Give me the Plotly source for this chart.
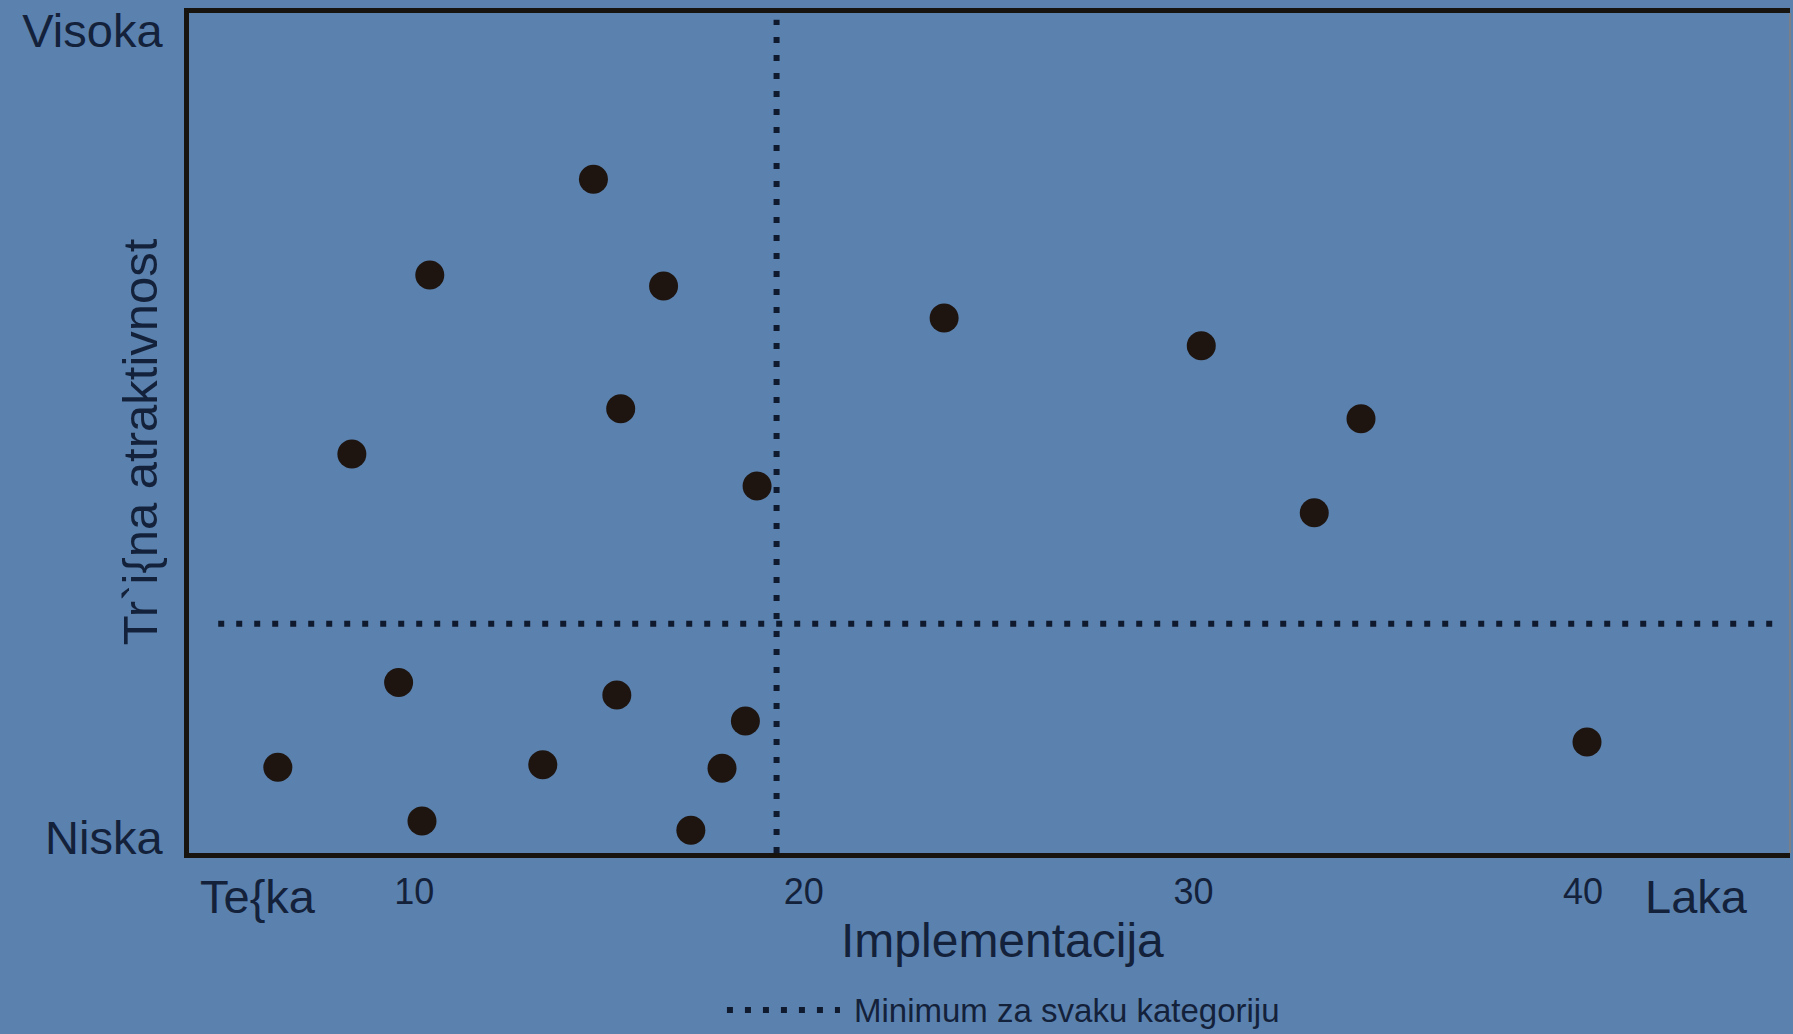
import plotly.graph_objects as go

# ---- data ----
implementacija = [14.6, 10.4, 16.4, 23.6, 30.2, 15.3, 8.4, 34.3, 18.8, 33.1,
                  9.6, 15.2, 18.5, 6.5, 13.3, 17.9, 40.1, 10.2, 17.1]
atraktivnost = [80.2, 68.8, 67.5, 63.7, 60.4, 52.9, 47.5, 51.7, 43.7, 40.5,
                20.3, 18.8, 15.7, 10.2, 10.5, 10.1, 13.2, 3.8, 2.7]

min_implementacija = 19.3
min_atraktivnost = 27.3

x_range = [4.22, 45.31]
y_range = [0, 100]

x_ticks = [10, 20, 30, 40]
x_tick_labels = ["10", "20", "30", "40"]
y_ticks = [1.8, 97.9]
y_tick_labels = ["Niska", "Visoka"]

x_end_labels = ["Te{ka", "Laka"]
x_end_positions = [6.0, 42.9]

x_title = "Implementacija"
y_title = "Tr`i{na atraktivnost"
legend_text = "Minimum za svaku kategoriju"

# ---- styles ----
BG = "#5b82ae"
TXT = "#14213a"
DOT = "#0f1a2e"
MARK = "#1e1511"
FONT = "Liberation Sans, Arial, sans-serif"
NARROW = "Liberation Sans Narrow, Arial Narrow, Liberation Sans, Arial, sans-serif"
DASH = "6px,12px"

fig = go.Figure()

# threshold lines
fig.add_trace(go.Scatter(
    x=[min_implementacija, min_implementacija], y=[y_range[0], y_range[1] - 0.8],
    mode="lines", line=dict(color=DOT, width=6, dash=DASH),
    showlegend=False, hoverinfo="skip"))
fig.add_trace(go.Scatter(
    x=[x_range[0] + 0.75, x_range[1] - 0.15], y=[min_atraktivnost, min_atraktivnost],
    mode="lines", line=dict(color=DOT, width=6, dash=DASH),
    showlegend=False, hoverinfo="skip"))

# points
fig.add_trace(go.Scatter(
    x=implementacija, y=atraktivnost, mode="markers",
    marker=dict(size=29, color=MARK, line=dict(width=0)),
    showlegend=False))

fig.update_layout(
    width=1793, height=1034,
    margin=dict(l=189, r=3, t=13, b=181),
    paper_bgcolor=BG, plot_bgcolor=BG,
    font=dict(family=FONT, color=TXT),
    showlegend=False,
)

fig.update_xaxes(
    range=x_range, showgrid=False, zeroline=False,
    showline=True, linewidth=5, linecolor="#17130f", mirror=True,
    tickvals=x_ticks, ticktext=x_tick_labels,
    ticks="", ticklabelstandoff=3,
    tickfont=dict(family=NARROW, size=36, color=TXT),
)
fig.update_yaxes(
    range=y_range, showgrid=False, zeroline=False,
    showline=True, linewidth=5, linecolor="#17130f",
    tickvals=y_ticks, ticktext=y_tick_labels,
    ticks="", ticklabelstandoff=12,
    tickfont=dict(family=FONT, size=47, color=TXT),
)

# thin right border
fig.add_shape(type="line", xref="paper", yref="paper", x0=1, x1=1, y0=0, y1=1,
              line=dict(color="#7d7f86", width=2))

# end labels on the x axis
for lab, pos in zip(x_end_labels, x_end_positions):
    fig.add_annotation(x=pos, xref="x", y=-0.052, yref="paper", text=lab,
                       showarrow=False, xanchor="center", yanchor="middle",
                       font=dict(family=FONT, size=47, color=TXT))

# axis titles
fig.add_annotation(x=0.508, xref="paper", y=-0.1036, yref="paper", text=x_title,
                   showarrow=False, xanchor="center", yanchor="middle",
                   font=dict(family=FONT, size=48, color=TXT))
fig.add_annotation(x=-0.0306, xref="paper", y=0.489, yref="paper", text=y_title,
                   textangle=-90, showarrow=False, xanchor="center", yanchor="middle",
                   font=dict(family=FONT, size=49, color=TXT))

# legend (dotted sample + text)
fig.add_shape(type="line", xref="paper", yref="paper",
              x0=0.336, x1=0.4066, y0=-0.187, y1=-0.187,
              line=dict(color=DOT, width=6, dash=DASH))
fig.add_annotation(x=0.414, xref="paper", y=-0.187, yref="paper", text=legend_text,
                   showarrow=False, xanchor="left", yanchor="middle",
                   font=dict(family=NARROW, size=33, color=TXT))

fig.write_html("out.html",
               config={"displayModeBar": False},
               post_script="document.body.style.margin='0';document.body.style.overflow='hidden';")
